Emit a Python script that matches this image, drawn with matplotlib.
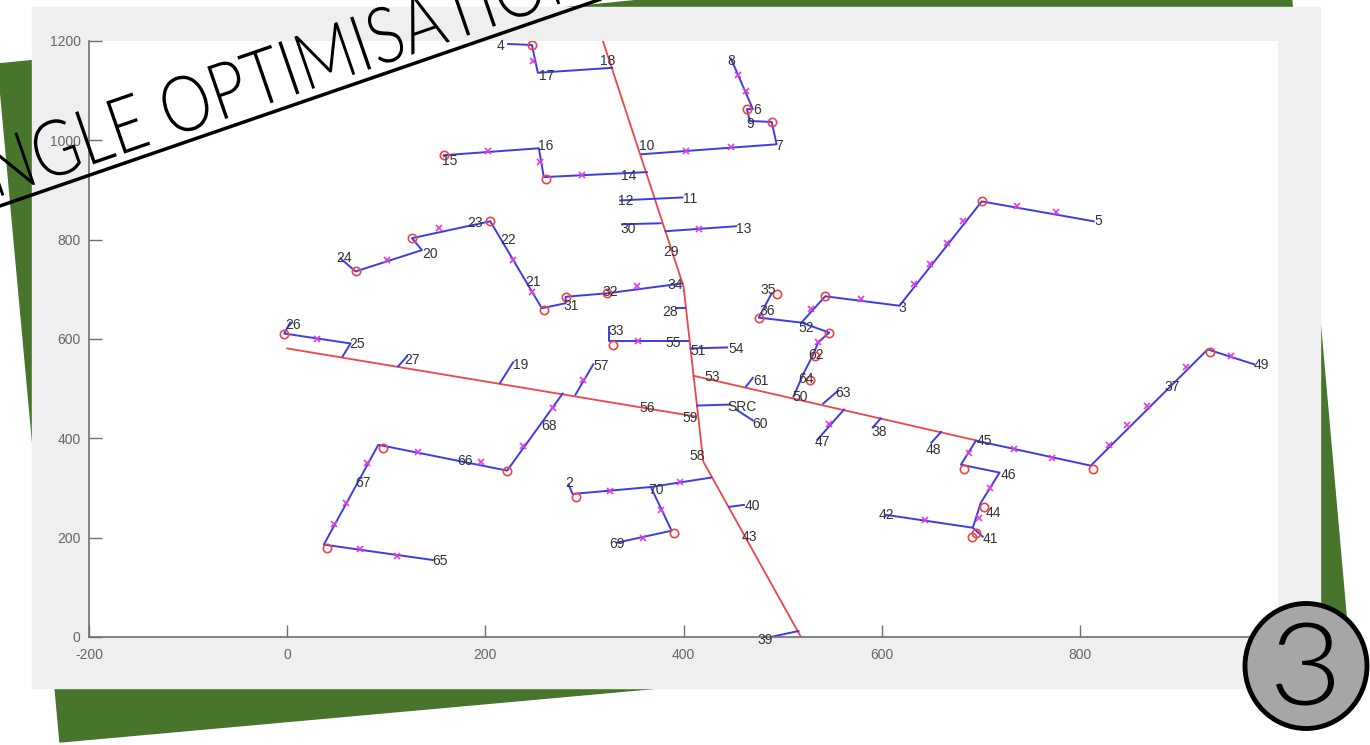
import matplotlib
matplotlib.use("Agg")
import matplotlib.pyplot as plt
from matplotlib.patches import Polygon, Rectangle, Ellipse, PathPatch
from matplotlib.textpath import TextPath
from matplotlib.font_manager import FontProperties
from matplotlib.transforms import Affine2D

plt.rcParams["axes.unicode_minus"] = False

# red feeders (main lines)
trunk_x = [318, 400, 420, 518]
trunk_y = [1204, 706, 353, 2]
feeder_w_x = [0, 412]
feeder_w_y = [581, 444]
feeder_e_x = [410, 695]
feeder_e_y = [526, 396]

# blue laterals, (x, y) vertices
b_4 = [(223, 1194), (247, 1192), (253, 1136), (328, 1146)]
b_15 = [(158, 970), (254, 984), (259, 926), (363, 936)]
b_8 = [(358, 972), (494, 992), (489, 1037), (467, 1039), (464, 1063), (470, 1063), (448, 1164)]
b_12 = [(336, 879), (399, 885)]
b_30 = [(338, 831), (377, 833)]
b_13 = [(382, 817), (453, 827)]
b_28 = [(392, 663), (402, 663)]
b_24 = [(54, 762), (69, 736), (136, 779), (126, 803), (205, 837), (257, 662),
        (281, 672), (281, 685), (323, 692), (399, 712)]
b_26 = [(3, 633), (-3, 611), (64, 591), (56, 565)]
b_27 = [(112, 545), (121, 565)]
b_19 = [(215, 512), (228, 553)]
b_57 = [(291, 488), (309, 549)]
b_65 = [(278, 490), (222, 335), (92, 387), (37, 186), (147, 155)]
b_33 = [(325, 625), (325, 595), (405, 595)]
b_54 = [(407, 581), (444, 583)]
b_61 = [(463, 504), (470, 522)]
b_src = [(414, 466), (447, 468)]
b_60 = [(453, 458), (470, 436)]
b_63 = [(541, 470), (556, 496)]
b_47 = [(562, 458), (535, 397)]
b_38 = [(599, 440), (591, 422)]
b_48 = [(660, 413), (650, 391)]
b_36 = [(489, 692), (476, 643), (519, 633), (547, 613), (536, 593), (530, 565), (521, 530), (511, 484)]
b_5 = [(519, 633), (543, 686), (618, 667), (701, 877), (814, 837)]
b_49 = [(696, 395), (811, 345), (929, 579), (976, 549)]
b_41 = [(695, 395), (680, 347), (719, 331), (700, 270), (692, 220), (702, 202)]
b_42 = [(604, 246), (692, 220)]
b_70 = [(284, 307), (288, 288), (367, 302), (428, 321)]
b_69 = [(367, 302), (388, 214), (333, 190)]
b_40 = [(446, 262), (461, 266)]
b_39 = [(488, 0), (516, 12)]

branches = [b_4, b_15, b_8, b_12, b_30, b_13, b_28, b_24, b_26, b_27, b_19, b_57,
            b_65, b_33, b_54, b_61, b_src, b_60, b_63, b_47, b_38, b_48, b_36, b_5,
            b_49, b_41, b_42, b_70, b_69, b_40, b_39]

# poles (x markers)
pole_x = [248, 203, 255, 298, 403, 448, 463, 455, 416, 153, 101, 228, 247, 353,
          30, 299, 268, 238, 196, 132, 81, 59, 47, 74, 111, 354, 547, 536,
          529, 579, 633, 649, 666, 682, 737, 776, 734, 772, 829, 848, 868, 907,
          953, 688, 709, 698, 644, 326, 396, 377, 359]
pole_y = [1160, 978, 956, 930, 978, 986, 1099, 1132, 821, 823, 760, 760, 694, 706,
          601, 518, 462, 385, 353, 373, 351, 270, 228, 178, 163, 595, 428, 593,
          660, 680, 710, 752, 794, 837, 867, 855, 379, 361, 387, 426, 466, 543,
          565, 371, 301, 240, 236, 294, 313, 256, 200]

# red rings
ring_x = [247, 158, 261, 489, 464, 69, 126, 205, 259, 281, 323, -3, 222, 97, 40,
          329, 494, 476, 547, 533, 528, 543, 701, 813, 931, 683, 703, 695, 691, 292, 390]
ring_y = [1192, 970, 922, 1037, 1063, 736, 803, 837, 658, 685, 692, 611, 335, 381, 180,
          587, 690, 643, 613, 565, 518, 686, 877, 339, 573, 339, 262, 210, 202, 282, 210]

# node labels
label_text = ["4", "17", "18", "8", "6", "9", "7", "10", "16", "15", "14", "12", "11",
              "30", "13", "29", "23", "22", "24", "20", "21", "34", "32", "31", "28",
              "35", "36", "3", "52", "26", "25", "33", "55", "51", "54", "62", "27",
              "19", "57", "53", "61", "64", "49", "37", "63", "50", "56", "SRC", "59",
              "60", "68", "38", "47", "45", "48", "58", "66", "46", "67", "2", "70",
              "40", "44", "42", "43", "41", "69", "65", "39", "5"]
label_x = [211, 254, 316, 444, 470, 463, 493, 355, 253, 156, 337, 334, 400,
           336, 453, 380, 182, 215, 50, 136, 240, 384, 318, 279, 379,
           478, 477, 617, 516, -2, 63, 324, 382, 407, 445, 526, 118,
           228, 309, 421, 470, 516, 975, 885, 553, 510, 356, 444, 399,
           469, 256, 590, 532, 696, 644, 406, 172, 720, 69, 281, 364,
           462, 705, 597, 459, 702, 325, 146, 475, 815]
label_y = [1190, 1130, 1160, 1160, 1061, 1033, 988, 988, 988, 958, 928, 877, 881,
           821, 821, 775, 833, 799, 764, 772, 714, 708, 694, 666, 655,
           698, 657, 663, 623, 629, 589, 617, 591, 575, 579, 567, 558,
           548, 546, 524, 516, 520, 548, 504, 492, 484, 462, 464, 440,
           429, 425, 413, 393, 395, 377, 365, 355, 327, 311, 311, 296,
           264, 250, 246, 202, 198, 188, 153, -6, 837]

W, H = 1370, 745
fig = plt.figure(figsize=(W / 100, H / 100), dpi=100)

# slide background
bg = fig.add_axes([0, 0, 1, 1])
bg.set_xlim(0, W)
bg.set_ylim(H, 0)
bg.axis("off")
bg.add_patch(Polygon([(-2, 64), (1286, -64), (1347, 626), (60, 742)], color="#48752c"))
bg.add_patch(Rectangle((32, 7), 1288, 681, color="#efefef"))

ax = fig.add_axes([89 / W, (H - 637) / H, (1278 - 89) / W, (637 - 41) / H])
ax.set_facecolor("white")

red = "#f04545"
blue = "#3c3ce6"
ax.plot(trunk_x, trunk_y, color=red, lw=1.3)
ax.plot(feeder_w_x, feeder_w_y, color=red, lw=1.3)
ax.plot(feeder_e_x, feeder_e_y, color=red, lw=1.3)
for br in branches:
    xs, ys = zip(*br)
    ax.plot(xs, ys, color=blue, lw=1.4)
ax.plot(pole_x, pole_y, "x", color="#e03ce0", ms=5, mew=1.2, zorder=3)
ax.plot(ring_x, ring_y, "o", mfc="none", mec=red, ms=6, mew=1.2, zorder=3)
for t, x, y in zip(label_text, label_x, label_y):
    ax.text(x, y, t, fontsize=10, color="#333333", ha="left", va="center",
            family="Liberation Sans", zorder=4)

ax.set_xlim(-200, 1000)
ax.set_ylim(0, 1200)
ax.set_xticks(range(-200, 1001, 200))
ax.set_yticks(range(0, 1201, 200))
for s in ["top", "right"]:
    ax.spines[s].set_visible(False)
for s in ["left", "bottom"]:
    ax.spines[s].set_color("#707070")
    ax.spines[s].set_linewidth(1.2)
ax.tick_params(direction="in", length=9, width=1, colors="#707070", labelsize=10)
ax.tick_params(axis="x", pad=8)
ax.tick_params(axis="y", pad=6)
for lab in ax.get_xticklabels() + ax.get_yticklabels():
    lab.set_family("Liberation Sans")
    lab.set_color("#666666")

# overlay: title and slide number
top = fig.add_axes([0, 0, 1, 1], zorder=5)
top.set_xlim(0, W)
top.set_ylim(H, 0)
top.axis("off")

fp = FontProperties(family="Lato", weight=300)
tp = TextPath((0, 0), "SINGLE OPTIMISATION", size=1, prop=fp)
bb = tp.get_extents()
sx = 679 / bb.width
tr = (Affine2D().translate(-(bb.x0 + bb.x1) / 2, 0).scale(sx, -78)
      .rotate_deg(-19).translate(270, 103.5))
top.add_patch(PathPatch(tr.transform_path(tp), facecolor="black", edgecolor="none"))
top.plot([-10, 610], [209.4, -4], color="black", lw=2.5, solid_capstyle="butt")

top.add_patch(Ellipse((1306, 666), 122, 125, facecolor="#a6a6a6", edgecolor="black", lw=3.5))
tp3 = TextPath((0, 0), "3", size=1, prop=fp)
b3 = tp3.get_extents()
tr3 = (Affine2D().translate(-(b3.x0 + b3.x1) / 2, -(b3.y0 + b3.y1) / 2)
       .scale(58 / b3.width, -83 / b3.height).translate(1305, 664))
top.add_patch(PathPatch(tr3.transform_path(tp3), facecolor="black", edgecolor="none"))

fig.savefig("out.png", dpi=100)
